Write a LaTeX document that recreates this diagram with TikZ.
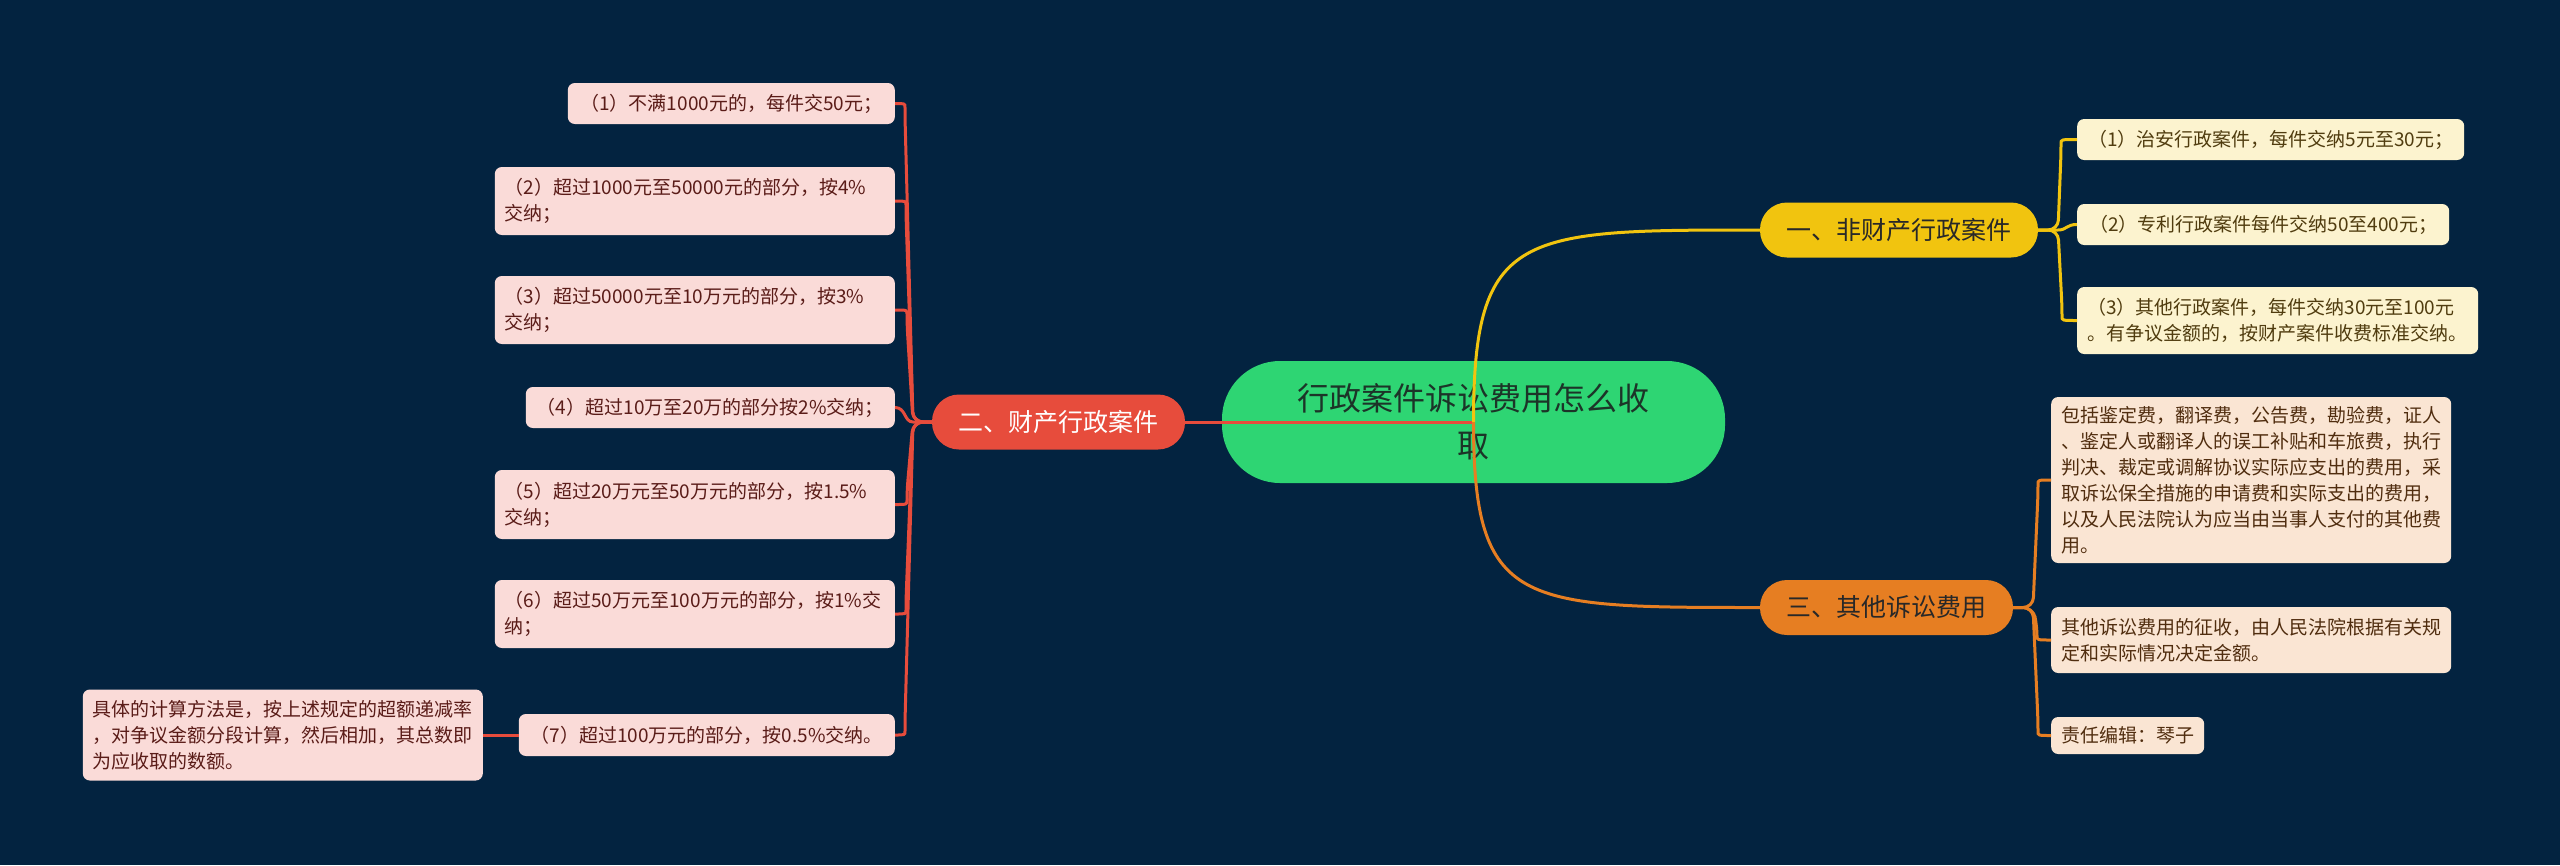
\documentclass[tikz,border=0pt]{standalone}
\usepackage{fontspec}
\setmainfont{Noto Sans CJK SC}
\definecolor{bgc}{RGB}{3,35,64}
\definecolor{rootc}{RGB}{46,213,115}
\definecolor{roottx}{RGB}{28,52,40}
\definecolor{redc}{RGB}{231,76,60}
\definecolor{yelc}{RGB}{241,196,15}
\definecolor{orac}{RGB}{230,126,34}
\definecolor{pinkbg}{RGB}{250,219,216}
\definecolor{pinktx}{RGB}{90,28,24}
\definecolor{creambg}{RGB}{252,243,207}
\definecolor{creamtx}{RGB}{80,60,15}
\definecolor{peachbg}{RGB}{250,229,211}
\definecolor{peachtx}{RGB}{80,45,15}
\definecolor{darktx}{RGB}{40,40,40}
\begin{document}
\begin{tikzpicture}[x=1pt,y=-1pt,
  boxbase/.style={rounded corners=7pt, inner xsep=10pt, inner ysep=0pt,
    font=\fontsize{19}{26}\selectfont, minimum height=41pt},
  lbox/.style={boxbase, fill=pinkbg, text=pinktx, anchor=east},
  ybox/.style={boxbase, fill=creambg, text=creamtx, anchor=west},
  obox/.style={boxbase, fill=peachbg, text=peachtx, anchor=west},
  multi/.style={text width=380pt, align=left},
  single/.style={align=center, minimum width=#1},
  branch/.style={rounded corners=27pt, minimum height=55pt, inner sep=0pt,
    font=\fontsize{25}{30}\selectfont, align=center},
  edgeR/.style={draw=redc, line width=3pt},
  edgeY/.style={draw=yelc, line width=3pt},
  edgeO/.style={draw=orac, line width=3pt}]
\fill[bgc] (0,0) rectangle (2560,865);
\useasboundingbox (0,0) rectangle (2560,865);

% root
\node[fill=rootc, text=roottx, rounded corners=58pt, minimum width=503pt,
  minimum height=122pt, inner sep=0pt, font=\fontsize{32}{47}\selectfont,
  align=center] (root) at (1473.5,422) {行政案件诉讼费用怎么收\\取};

% branches
\node[branch, fill=redc, text=white, minimum width=253pt] (br) at (1058.5,422) {二、财产行政案件};
\node[branch, fill=yelc, text=darktx, minimum width=278pt] (by) at (1899,230) {一、非财产行政案件};
\node[branch, fill=orac, text=darktx, minimum width=253pt] (bo) at (1886.5,607.5) {三、其他诉讼费用};

% left boxes
\node[lbox, single=327pt] (L1) at (895,103.5) {（1）不满1000元的，每件交50元；};
\node[lbox, multi, minimum height=68pt] (L2) at (895,201) {（2）超过1000元至50000元的部分，按4\%\\交纳；};
\node[lbox, multi, minimum height=68pt] (L3) at (895,310) {（3）超过50000元至10万元的部分，按3\%\\交纳；};
\node[lbox, single=369pt] (L4) at (895,407.5) {（4）超过10万至20万的部分按2\%交纳；};
\node[lbox, multi, minimum height=69pt] (L5) at (895,504.5) {（5）超过20万元至50万元的部分，按1.5\%\\交纳；};
\node[lbox, multi, minimum height=68pt] (L6) at (895,614) {（6）超过50万元至100万元的部分，按1\%交\\纳；};
\node[lbox, single=376pt, minimum height=42pt] (L7) at (895,735) {（7）超过100万元的部分，按0.5\%交纳。};
\node[lbox, multi, minimum height=91pt] (L8) at (483,735) {具体的计算方法是，按上述规定的超额递减率\\，对争议金额分段计算，然后相加，其总数即\\为应收取的数额。};

% right boxes (yellow)
\node[ybox, single=387pt] (R1) at (2077,139.5) {（1）治安行政案件，每件交纳5元至30元；};
\node[ybox, single=372pt] (R2) at (2077,224.5) {（2）专利行政案件每件交纳50至400元；};
\node[ybox, multi, text width=381pt, minimum height=67pt] (R3) at (2077,320.5) {（3）其他行政案件，每件交纳30元至100元\\。有争议金额的，按财产案件收费标准交纳。};

% right boxes (orange)
\node[obox, multi, minimum height=166pt] (R4) at (2051,480) {包括鉴定费，翻译费，公告费，勘验费，证人\\、鉴定人或翻译人的误工补贴和车旅费，执行\\判决、裁定或调解协议实际应支出的费用，采\\取诉讼保全措施的申请费和实际支出的费用，\\以及人民法院认为应当由当事人支付的其他费\\用。};
\node[obox, multi, minimum height=66pt] (R5) at (2051,640) {其他诉讼费用的征收，由人民法院根据有关规\\定和实际情况决定金额。};
\node[obox, single=150pt, minimum height=37pt] (R6) at (2051,735.5) {责任编辑：琴子};

% root connectors
\draw[edgeR] (root.center) -- (br.east);
\draw[edgeY] (root.center) .. controls (1473.5,230) and (1520,230) .. (by.west);
\draw[edgeO] (root.center) .. controls (1473.5,607.5) and (1520,607.5) .. (bo.west);

% red children
\draw[edgeR, rounded corners=10pt] (br.west) -- (913,422) -- (905,117.5) [sharp corners] .. controls (905,103.5) .. (L1.east);
\draw[edgeR, rounded corners=10pt] (br.west) -- (913,422) -- (906,215) [sharp corners] .. controls (906,201) .. (L2.east);
\draw[edgeR, rounded corners=10pt] (br.west) -- (913,422) -- (907,324) [sharp corners] .. controls (907,310) .. (L3.east);
\draw[edgeR] (br.west) -- (913,422) .. controls (904,422) and (906,407.5) .. (L4.east);
\draw[edgeR, rounded corners=10pt] (br.west) -- (913,422) -- (907,490.5) [sharp corners] .. controls (907,504.5) .. (L5.east);
\draw[edgeR, rounded corners=10pt] (br.west) -- (913,422) -- (906,600) [sharp corners] .. controls (906,614) .. (L6.east);
\draw[edgeR, rounded corners=10pt] (br.west) -- (913,422) -- (905,721) [sharp corners] .. controls (905,735) .. (L7.east);
\draw[edgeR] (L7.west) -- (L8.east);

% yellow children
\draw[edgeY, rounded corners=10pt] (by.east) -- (2058,230) -- (2061,153.5) [sharp corners] .. controls (2061,139.5) .. (R1.west);
\draw[edgeY] (by.east) -- (2058,230) .. controls (2067,230) and (2066,224.5) .. (R2.west);
\draw[edgeY, rounded corners=10pt] (by.east) -- (2058,230) -- (2062,306.5) [sharp corners] .. controls (2062,320.5) .. (R3.west);

% orange children
\draw[edgeO, rounded corners=10pt] (bo.east) -- (2033,607.5) -- (2038,494) [sharp corners] .. controls (2038,480) .. (R4.west);
\draw[edgeO, rounded corners=10pt] (bo.east) -- (2033,607.5) -- (2037,626) [sharp corners] .. controls (2037,640) .. (R5.west);
\draw[edgeO, rounded corners=10pt] (bo.east) -- (2033,607.5) -- (2038,721.5) [sharp corners] .. controls (2038,735.5) .. (R6.west);
\end{tikzpicture}
\end{document}
